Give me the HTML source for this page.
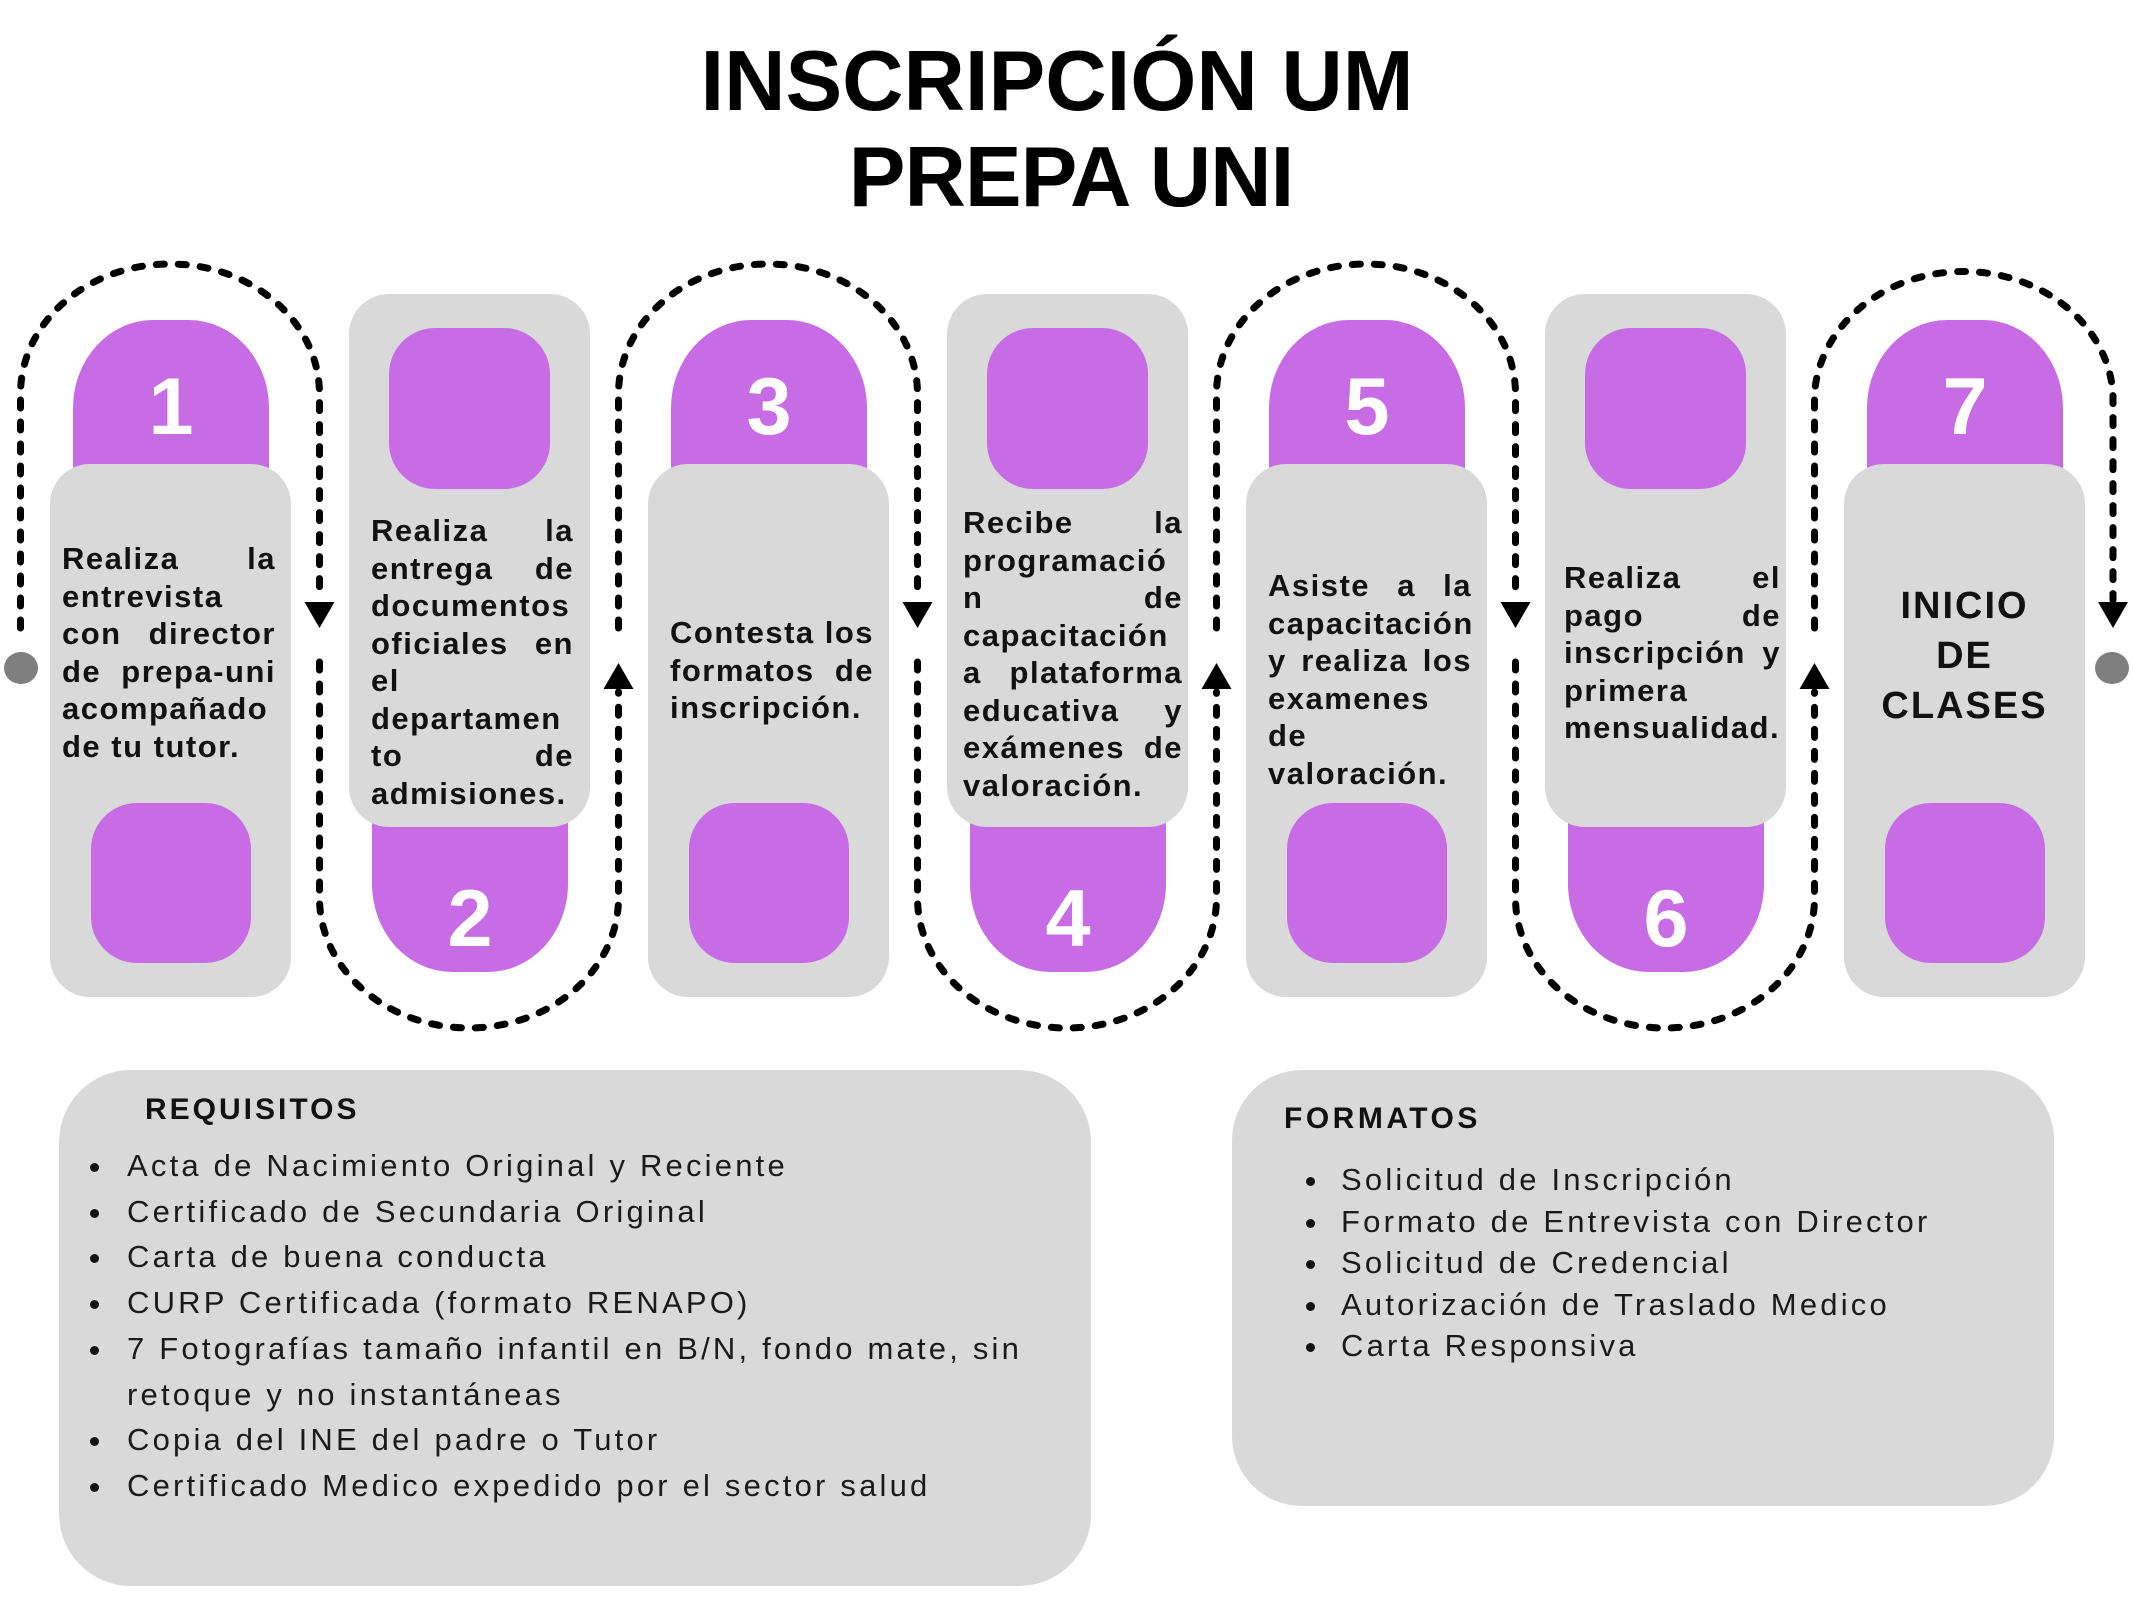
<!DOCTYPE html>
<html>
<head>
<meta charset="utf-8">
<style>
  html,body{margin:0;padding:0;background:#fff;}
  #root{position:relative;width:2134px;height:1600px;overflow:hidden;background:#fff;}
  svg{position:absolute;left:0;top:0;}
  .title{position:absolute;width:1000px;text-align:center;font-family:"Liberation Sans",Arial,sans-serif;font-weight:bold;font-size:85px;line-height:85px;color:#000;white-space:nowrap;}
  .t{position:absolute;font-family:"Liberation Sans",Arial,sans-serif;font-weight:bold;font-size:31px;letter-spacing:1.5px;line-height:37.5px;color:#111;}
  .t div{height:37.5px;white-space:nowrap;}
  .t .j{display:flex;justify-content:space-between;}
  .c7{position:absolute;left:1844px;top:581px;width:241px;text-align:center;font-family:"Liberation Sans",Arial,sans-serif;font-weight:bold;font-size:38px;letter-spacing:2px;line-height:50px;color:#111;}
  .h{position:absolute;font-family:"Liberation Sans",Arial,sans-serif;font-weight:bold;font-size:30px;line-height:30px;color:#111;white-space:nowrap;}
  .list{position:absolute;margin:0;padding:0;list-style:none;font-family:"Liberation Sans",Arial,sans-serif;font-size:31px;letter-spacing:3.2px;color:#1a1a1a;white-space:nowrap;}
  .list li{position:relative;}
  .list li::before{content:"";position:absolute;width:9px;height:9px;border-radius:50%;background:#111;}
  .req li{line-height:45.7px;}
  .req li::before{left:-37px;top:20px;}
  .fmt li{line-height:41.6px;}
  .fmt li::before{left:-35px;top:18px;}
</style>
</head>
<body>
<div id="root">
<svg width="2134" height="1600" viewBox="0 0 2134 1600" xmlns="http://www.w3.org/2000/svg">
  <!-- purple tabs (behind cards) -->
  <g fill="#C86CE6">
    <rect x="73" y="320" width="196" height="400" rx="80" ry="88"/>
    <rect x="671" y="320" width="196" height="400" rx="80" ry="88"/>
    <rect x="1269" y="320" width="196" height="400" rx="80" ry="88"/>
    <rect x="1867" y="320" width="196" height="400" rx="80" ry="88"/>
    <rect x="372" y="572" width="196" height="400" rx="80" ry="88"/>
    <rect x="970" y="572" width="196" height="400" rx="80" ry="88"/>
    <rect x="1568" y="572" width="196" height="400" rx="80" ry="88"/>
  </g>
  <!-- gray cards -->
  <g fill="#D9D9D9">
    <rect x="50" y="464" width="241" height="533" rx="40" ry="40"/>
    <rect x="648" y="464" width="241" height="533" rx="40" ry="40"/>
    <rect x="1246" y="464" width="241" height="533" rx="40" ry="40"/>
    <rect x="1844" y="464" width="241" height="533" rx="40" ry="40"/>
    <rect x="349" y="294" width="241" height="533" rx="40" ry="40"/>
    <rect x="947" y="294" width="241" height="533" rx="40" ry="40"/>
    <rect x="1545" y="294" width="241" height="533" rx="40" ry="40"/>
    <!-- bottom boxes -->
    <rect x="59" y="1070" width="1032" height="516" rx="72" ry="72"/>
    <rect x="1232" y="1070" width="822" height="436" rx="70" ry="70"/>
  </g>
  <!-- purple squares -->
  <g fill="#C86CE6">
    <rect x="91" y="803" width="160" height="160" rx="46" ry="46"/>
    <rect x="689" y="803" width="160" height="160" rx="46" ry="46"/>
    <rect x="1287" y="803" width="160" height="160" rx="46" ry="46"/>
    <rect x="1885" y="803" width="160" height="160" rx="46" ry="46"/>
    <rect x="389" y="328" width="161" height="161" rx="46" ry="46"/>
    <rect x="987" y="328" width="161" height="161" rx="46" ry="46"/>
    <rect x="1585" y="328" width="161" height="161" rx="46" ry="46"/>
  </g>
  <!-- numbers -->
  <g fill="#fff" font-family="Liberation Sans, Arial, sans-serif" font-weight="bold" font-size="81" text-anchor="middle">
    <text x="171" y="434">1</text>
    <text x="470" y="946">2</text>
    <text x="769" y="434">3</text>
    <text x="1068" y="946">4</text>
    <text x="1367" y="434">5</text>
    <text x="1666" y="946">6</text>
    <text x="1965" y="434">7</text>
  </g>
  <!-- dashed connectors -->
  <g fill="none" stroke="#000" stroke-width="7" stroke-linecap="round" stroke-dasharray="8 14">
    <path d="M20.5,628 V394 A149.5,130 0 0 1 319.5,394 V600"/>
    <path d="M618.5,628 V394 A149.5,130 0 0 1 917.5,394 V600"/>
    <path d="M1216.5,628 V394 A149.5,130 0 0 1 1515.5,394 V600"/>
    <path d="M1814.5,628 V394 A149.5,130 0 0 1 2113,394 V600"/>
    <path d="M319.5,662 V898 A149.5,130 0 0 0 618.5,898 V692"/>
    <path d="M917.5,662 V898 A149.5,130 0 0 0 1216.5,898 V692"/>
    <path d="M1515.5,662 V898 A149.5,130 0 0 0 1814.5,898 V692"/>
  </g>
  <!-- arrows -->
  <g fill="#000">
    <polygon points="304.5,602 334.5,602 319.5,628"/>
    <polygon points="902.5,602 932.5,602 917.5,628"/>
    <polygon points="1500.5,602 1530.5,602 1515.5,628"/>
    <polygon points="2098,602 2128,602 2113,628"/>
    <polygon points="603.5,689 633.5,689 618.5,663"/>
    <polygon points="1201.5,689 1231.5,689 1216.5,663"/>
    <polygon points="1799.5,689 1829.5,689 1814.5,663"/>
  </g>
  <!-- end dots -->
  <ellipse cx="21" cy="668" rx="17" ry="16" fill="#7f7f7f"/>
  <ellipse cx="2112" cy="668" rx="17" ry="16" fill="#7f7f7f"/>
</svg>

<div class="title" style="left:557px;top:39px;">INSCRIPCIÓN UM</div>
<div class="title" style="left:571px;top:135px;letter-spacing:-1px;">PREPA UNI</div>

<div class="t" style="left:62px;top:540px;width:214px;">
  <div class="j"><span>Realiza</span><span>la</span></div>
  <div>entrevista</div>
  <div class="j"><span>con</span><span>director</span></div>
  <div class="j"><span>de</span><span>prepa-uni</span></div>
  <div>acompañado</div>
  <div>de tu tutor.</div>
</div>

<div class="t" style="left:371px;top:512px;width:203px;">
  <div class="j"><span>Realiza</span><span>la</span></div>
  <div class="j"><span>entrega</span><span>de</span></div>
  <div>documentos</div>
  <div class="j"><span>oficiales</span><span>en</span></div>
  <div>el</div>
  <div>departamen</div>
  <div class="j"><span>to</span><span>de</span></div>
  <div>admisiones.</div>
</div>

<div class="t" style="left:670px;top:614px;width:204px;">
  <div class="j"><span>Contesta</span><span>los</span></div>
  <div class="j"><span>formatos</span><span>de</span></div>
  <div>inscripción.</div>
</div>

<div class="t" style="left:963px;top:504px;width:220px;">
  <div class="j"><span>Recibe</span><span>la</span></div>
  <div>programació</div>
  <div class="j"><span>n</span><span>de</span></div>
  <div>capacitación</div>
  <div class="j"><span>a</span><span>plataforma</span></div>
  <div class="j"><span>educativa</span><span>y</span></div>
  <div class="j"><span>exámenes</span><span>de</span></div>
  <div>valoración.</div>
</div>

<div class="t" style="left:1268px;top:567px;width:204px;">
  <div class="j"><span>Asiste</span><span>a</span><span>la</span></div>
  <div>capacitación</div>
  <div class="j"><span>y</span><span>realiza</span><span>los</span></div>
  <div>examenes</div>
  <div>de</div>
  <div>valoración.</div>
</div>

<div class="t" style="left:1564px;top:559px;width:217px;">
  <div class="j"><span>Realiza</span><span>el</span></div>
  <div class="j"><span>pago</span><span>de</span></div>
  <div class="j"><span>inscripción</span><span>y</span></div>
  <div>primera</div>
  <div>mensualidad.</div>
</div>

<div class="c7">INICIO<br>DE<br>CLASES</div>

<div class="h" style="left:145px;top:1095px;letter-spacing:3px;">REQUISITOS</div>
<ul class="list req" style="left:127px;top:1143px;">
  <li>Acta de Nacimiento Original y Reciente</li>
  <li>Certificado de Secundaria Original</li>
  <li>Carta de buena conducta</li>
  <li>CURP Certificada (formato RENAPO)</li>
  <li>7 Fotografías tamaño infantil en B/N, fondo mate, sin<br>retoque y no instantáneas</li>
  <li>Copia del INE del padre o Tutor</li>
  <li>Certificado Medico expedido por el sector salud</li>
</ul>

<div class="h" style="left:1284px;top:1104px;letter-spacing:3.5px;">FORMATOS</div>
<ul class="list fmt" style="left:1341px;top:1159px;">
  <li>Solicitud de Inscripción</li>
  <li>Formato de Entrevista con Director</li>
  <li>Solicitud de Credencial</li>
  <li>Autorización de Traslado Medico</li>
  <li>Carta Responsiva</li>
</ul>
</div>
</body>
</html>
